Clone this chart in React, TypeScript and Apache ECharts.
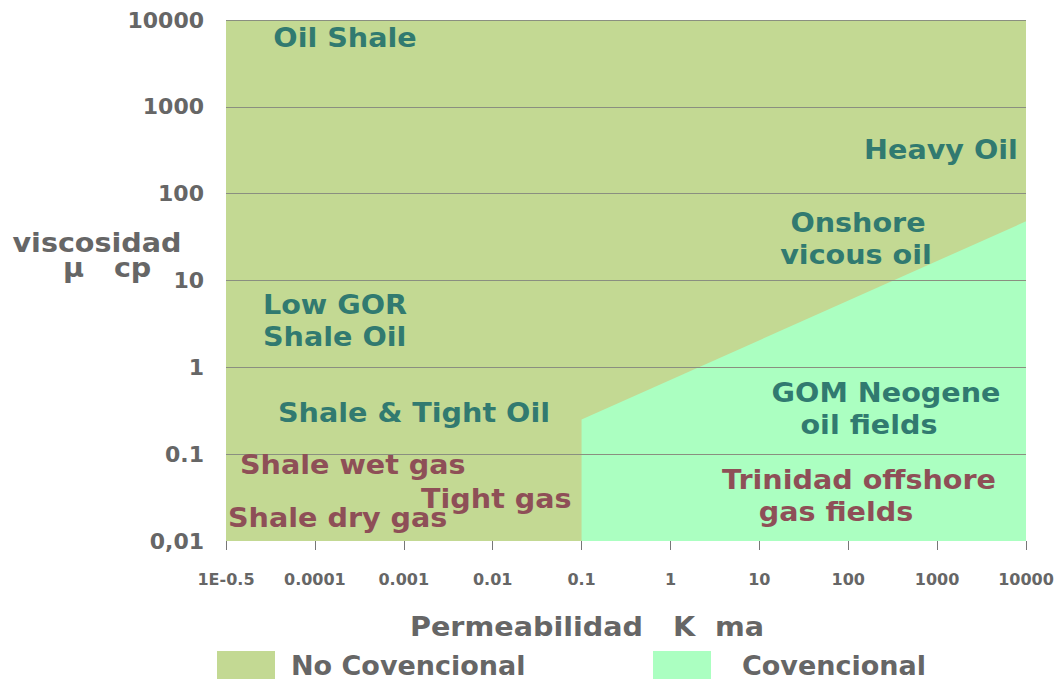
import React, { useEffect, useRef } from "react";
import * as echarts from "echarts";

// ---- data ----
const xTickLabels = ["1E-0.5", "0.0001", "0.001", "0.01", "0.1", "1", "10", "100", "1000", "10000"];
const yTickLabels = ["0,01", "0.1", "1", "10", "100", "1000", "10000"];
const xMinExp = -5;
const xMaxExp = 4;
const yMinExp = -2;
const yMaxExp = 4;

// No convencional region (whole domain)
const noConvK = [1e-5, 1e-5, 1e4, 1e4];
const noConvMu = [0.01, 10000, 10000, 0.01];
// Convencional region
const convK = [0.1, 0.1, 10000, 10000];
const convMu = [0.01, 0.25, 48, 0.01];

const seriesNames = ["No Covencional", "Covencional"];

// ---- style / layout ----
const OLIVE = "#c3d993";
const MINT = "#abffc1";
const TEAL = "#317a70";
const RED = "#8e4f57";
const GRAY = "#666666";
const FONT = '"DejaVu Sans", Verdana, sans-serif';

type Ann = { text: string; x: number; y: number; color: string; align: "left" | "center" };
const annotations: Ann[] = [
  { text: "Oil Shale", x: 345, y: 38, color: TEAL, align: "center" },
  { text: "Heavy Oil", x: 941, y: 150, color: TEAL, align: "center" },
  { text: "Onshore", x: 858, y: 223, color: TEAL, align: "center" },
  { text: "vicous oil", x: 856, y: 255, color: TEAL, align: "center" },
  { text: "Low GOR", x: 263, y: 305, color: TEAL, align: "left" },
  { text: "Shale Oil", x: 263, y: 337, color: TEAL, align: "left" },
  { text: "Shale & Tight Oil", x: 414, y: 413, color: TEAL, align: "center" },
  { text: "GOM Neogene", x: 886, y: 393, color: TEAL, align: "center" },
  { text: "oil fields", x: 869, y: 425, color: TEAL, align: "center" },
  { text: "Shale wet gas", x: 240, y: 465, color: RED, align: "left" },
  { text: "Tight gas", x: 421, y: 499, color: RED, align: "left" },
  { text: "Shale dry gas", x: 228, y: 518, color: RED, align: "left" },
  { text: "Trinidad offshore", x: 859, y: 480, color: RED, align: "center" },
  { text: "gas fields", x: 836, y: 512, color: RED, align: "center" },
];

function textEl(text: string, x: number, y: number, color: string, align: "left" | "center", size = 26) {
  return {
    type: "text",
    x,
    y,
    scaleX: 1.1,
    z: 10,
    silent: true,
    style: {
      text,
      fill: color,
      font: `bold ${size}px ${FONT}`,
      align,
      verticalAlign: "middle",
      textAlign: align,
      textVerticalAlign: "middle",
    },
  };
}

function polygonSeries(name: string, ks: number[], mus: number[], color: string) {
  return {
    name,
    type: "custom",
    coordinateSystem: "cartesian2d",
    z: 1,
    itemStyle: { color },
    encode: { x: 0, y: 1 },
    data: ks.map((k, i) => [k, mus[i]]),
    renderItem: (params: any, api: any) => {
      if (params.dataIndex !== 0) return null;
      const pts = ks.map((k, i) => api.coord([k, mus[i]]));
      return {
        type: "polygon",
        shape: { points: pts },
        style: { fill: color, stroke: null },
      };
    },
  };
}

export default function App() {
  const ref = useRef<HTMLDivElement>(null);
  useEffect(() => {
    if (!ref.current) return;
    const chart = echarts.init(ref.current, undefined, { renderer: "svg" });
    const option: any = {
      animation: false,
      textStyle: { fontFamily: FONT },
      grid: { left: 226, right: 31, top: 20, bottom: 140, show: false },
      xAxis: {
        type: "log",
        logBase: 10,
        min: Math.pow(10, xMinExp),
        max: Math.pow(10, xMaxExp),
        axisLine: { show: false },
        axisTick: { show: true, length: 9, lineStyle: { color: "#777", width: 1 } },
        splitLine: { show: false },
        axisLabel: {
          show: true,
          margin: 30,
          color: GRAY,
          fontWeight: "bold",
          fontSize: 16,
          fontFamily: FONT,
          showMinLabel: true,
          showMaxLabel: true,
          hideOverlap: false,
          formatter: (v: number) => {
            const e = Math.round(Math.log10(v));
            return xTickLabels[e - xMinExp] ?? "";
          },
        },
      },
      yAxis: {
        type: "log",
        logBase: 10,
        z: 3,
        min: Math.pow(10, yMinExp),
        max: Math.pow(10, yMaxExp),
        axisLine: { show: false },
        axisTick: { show: false },
        splitLine: {
          show: true,
          showMinLine: false,
          showMaxLine: true,
          lineStyle: { color: "#8a8f80", width: 1 },
        },
        axisLabel: {
          margin: 22,
          color: GRAY,
          fontWeight: "bold",
          fontSize: 22,
          fontFamily: FONT,
          showMinLabel: true,
          showMaxLabel: true,
          formatter: (v: number) => {
            const e = Math.round(Math.log10(v));
            return yTickLabels[e - yMinExp] ?? "";
          },
        },
      },
      legend: [
        {
          data: [{ name: seriesNames[0], icon: "rect" }],
          left: 217,
          top: 651,
          padding: 0,
          itemWidth: 58,
          itemHeight: 28,
          selectedMode: false,
          textStyle: { color: GRAY, fontSize: 27, lineHeight: 27, fontWeight: "bold", fontFamily: FONT, padding: [0, 0, 0, 11] },
        },
        {
          data: [{ name: seriesNames[1], icon: "rect" }],
          left: 653,
          top: 651,
          padding: 0,
          itemWidth: 58,
          itemHeight: 28,
          selectedMode: false,
          textStyle: { color: GRAY, fontSize: 27, lineHeight: 27, fontWeight: "bold", fontFamily: FONT, padding: [0, 0, 0, 26] },
        },
      ],
      series: [
        polygonSeries(seriesNames[0], noConvK, noConvMu, OLIVE),
        polygonSeries(seriesNames[1], convK, convMu, MINT),
      ],
      graphic: [
        ...annotations.map((a) => textEl(a.text, a.x, a.y, a.color, a.align)),
        textEl("viscosidad", 97, 243, GRAY, "center"),
        textEl("μ   cp", 63, 268, GRAY, "left"),
        textEl("Permeabilidad   K  ma", 410, 627, GRAY, "left"),
      ],
    };
    chart.setOption(option);
    return () => chart.dispose();
  }, []);
  return <div ref={ref} style={{ width: 1057, height: 681, position: "absolute", left: 0, top: 0 }} />;
}
